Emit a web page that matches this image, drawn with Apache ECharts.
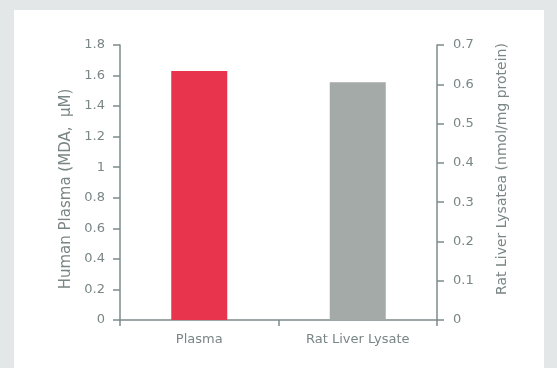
<!DOCTYPE html>
<html><head><meta charset="utf-8">
<script src="https://cdn.jsdelivr.net/npm/echarts@6/dist/echarts.min.js"></script>
<style>html,body{margin:0;padding:0;background:#e3e7e7;}#c{width:557px;height:368px;}</style>
</head><body><div id="c"></div>
<script>
const categories = ['Plasma', 'Rat Liver Lysate'];
const plasmaValues = [1.63, '-'];
const liverValues = ['-', 0.605];
const leftTicks = {min: 0, max: 1.8, interval: 0.2};
const rightTicks = {min: 0, max: 0.7, interval: 0.1};
const leftName = 'Human Plasma (MDA,  µM)';
const rightName = 'Rat Liver Lysatea (nmol/mg protein)';

const axisColor = '#7f8b8b';
const textColor = '#7a8585';
const font = 'DejaVu Sans';
const chart = echarts.init(document.getElementById('c'));
chart.setOption({
  animation: false,
  backgroundColor: '#e3e7e7',
  graphic: [
    {type: 'rect', z: -10, shape: {x: 14, y: 10, width: 530, height: 370}, style: {fill: '#ffffff'}},
    {type: 'text', x: 66, y: 189, rotation: Math.PI / 2, style: {text: leftName, fill: textColor, font: '15px ' + font, textAlign: 'center', textVerticalAlign: 'middle'}},
    {type: 'text', x: 502, y: 169, rotation: Math.PI / 2, style: {text: rightName, fill: textColor, font: '14px ' + font, textAlign: 'center', textVerticalAlign: 'middle'}}
  ],
  grid: {left: 120, right: 120, top: 45, bottom: 48},
  xAxis: {
    type: 'category', data: categories,
    axisLine: {lineStyle: {color: axisColor, width: 1.5}},
    axisTick: {show: true, length: 6, lineStyle: {color: axisColor, width: 1.5}},
    axisLabel: {color: textColor, fontFamily: font, fontSize: 13, margin: 13}
  },
  yAxis: [
    {type: 'value', position: 'left', min: leftTicks.min, max: leftTicks.max, interval: leftTicks.interval,
     axisLine: {show: true, lineStyle: {color: axisColor, width: 1.5}},
     axisTick: {show: true, length: 7, lineStyle: {color: axisColor, width: 1.5}},
     splitLine: {show: false},
     axisLabel: {color: textColor, fontFamily: font, fontSize: 13, margin: 15, formatter: v => String(+v.toFixed(1))}},
    {type: 'value', position: 'right', min: rightTicks.min, max: rightTicks.max, interval: rightTicks.interval,
     axisLine: {show: true, lineStyle: {color: axisColor, width: 1.5}},
     axisTick: {show: true, length: 7, lineStyle: {color: axisColor, width: 1.5}},
     splitLine: {show: false},
     axisLabel: {color: textColor, fontFamily: font, fontSize: 13, margin: 16, formatter: v => String(+v.toFixed(1))}}
  ],
  series: [
    {type: 'bar', yAxisIndex: 0, data: plasmaValues, barWidth: 56, barGap: '-100%', itemStyle: {color: '#e8344d'}},
    {type: 'bar', yAxisIndex: 1, data: liverValues, barWidth: 56, barGap: '-100%', itemStyle: {color: '#a3aaa8'}}
  ]
});
</script></body></html>
